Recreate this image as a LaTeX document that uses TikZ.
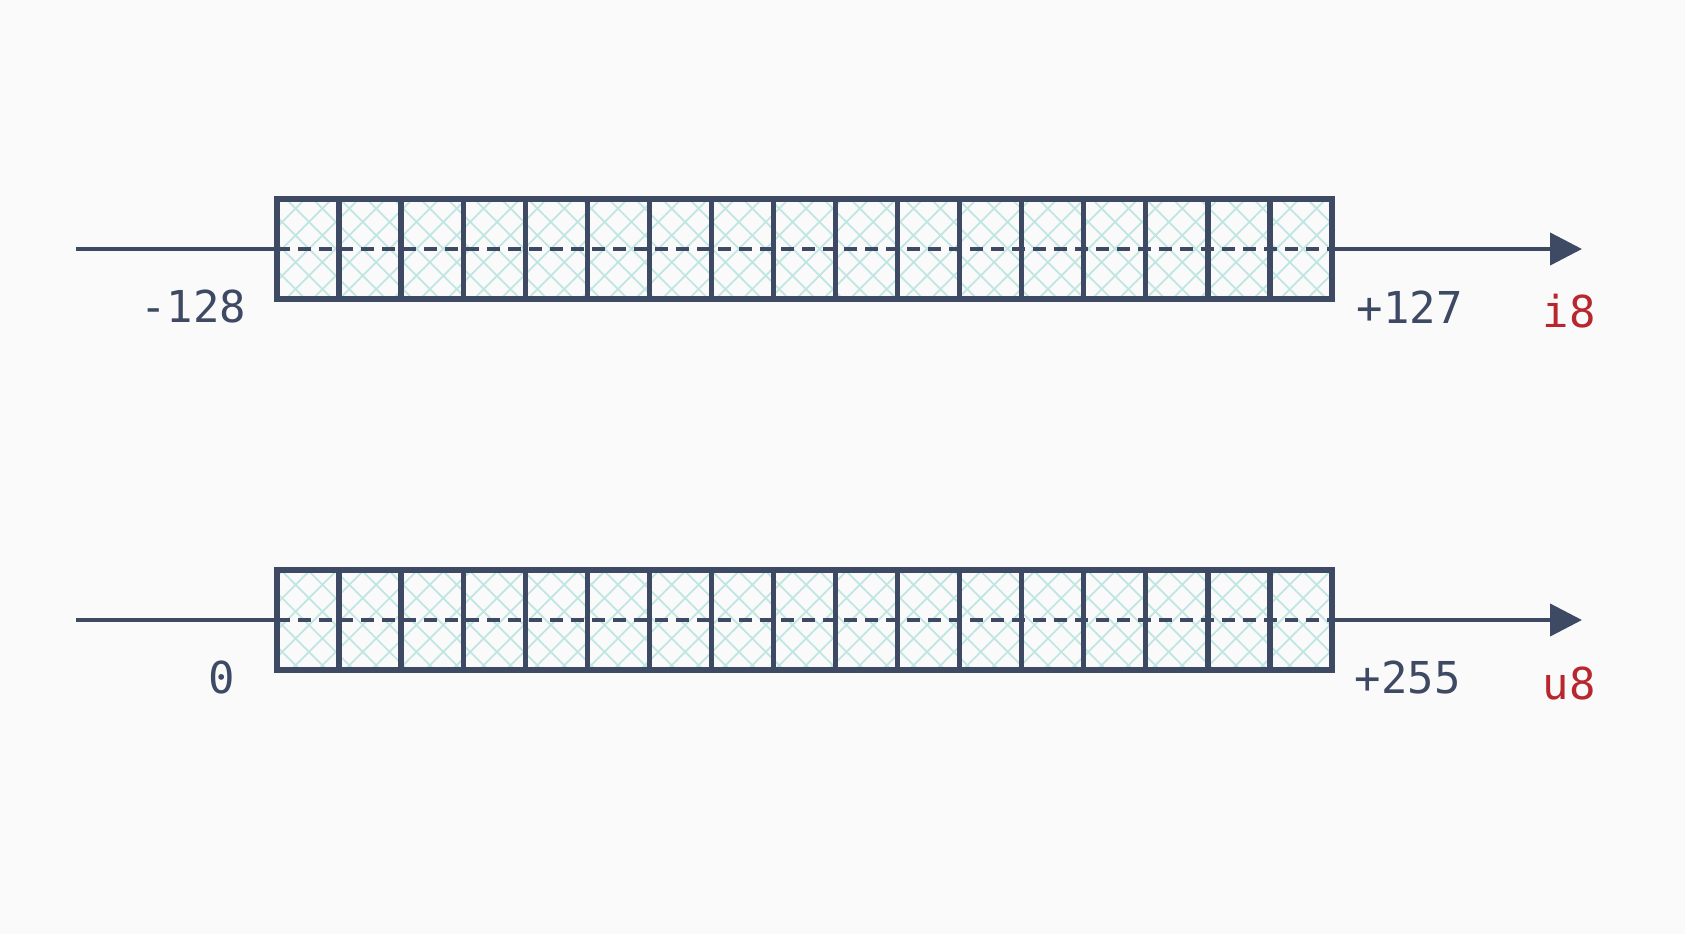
\documentclass[tikz,border=0pt]{standalone}
\usepackage{fontspec}
\setmonofont{DejaVu Sans Mono}
\usetikzlibrary{arrows.meta,patterns.meta,positioning}
\definecolor{slate}{HTML}{3E4A63}
\definecolor{typered}{HTML}{B8262E}
\definecolor{hatchteal}{HTML}{BFE6E2}
\definecolor{paper}{HTML}{FAFAFA}
\tikzset{
	cell/.style={rectangle, draw=slate, line width=1.5pt, minimum width=0.6206cm, minimum height=1cm, inner sep=0pt, outer sep=0pt, pattern={Hatch[angle=45, distance=0.19cm, line width=0.5pt]}, pattern color=hatchteal},
	axis/.style={draw=slate, line width=1.2pt},
	midline/.style={draw=slate, line width=0.9pt, dash pattern=on 0.13cm off 0.08cm},
	bound/.style={text=slate, font=\ttfamily\fontsize{12.5}{15}\selectfont, inner sep=0pt},
	typename/.style={text=typered, font=\ttfamily\fontsize{12.5}{15}\selectfont, inner sep=0pt},
}
\begin{document}
\begin{tikzpicture}
	\fill[paper] (0,0) rectangle (16.85,9.34);
	\useasboundingbox (0,0) rectangle (16.85,9.34);
	% signed byte
	\coordinate (i8start) at (0.76,6.85);
	\coordinate (i8end) at (15.82,6.85);
	\node[cell] (i8c1) at (3.0803,6.85) {};
	\foreach \k [remember=\k as \prev (initially 1)] in {2,...,17}
		\node[cell, right=0pt of i8c\prev] (i8c\k) {};
	\draw[axis] (i8start) -- (i8c1.west);
	\draw[axis, -{Triangle[length=0.32cm, width=0.32cm]}] (i8c17.east) -- (i8end);
	\draw[midline] (i8c1.west) -- (i8c17.east);
	\node[bound, anchor=east] (i8min) at (2.47,6.27) {-128};
	\node[bound, anchor=west] (i8max) at (13.56,6.27) {+127};
	\node[typename] (i8name) at (15.69,6.23) {i8};
	% unsigned byte
	\coordinate (u8start) at (0.76,3.14);
	\coordinate (u8end) at (15.82,3.14);
	\node[cell] (u8c1) at (3.0803,3.14) {};
	\foreach \k [remember=\k as \prev (initially 1)] in {2,...,17}
		\node[cell, right=0pt of u8c\prev] (u8c\k) {};
	\draw[axis] (u8start) -- (u8c1.west);
	\draw[axis, -{Triangle[length=0.32cm, width=0.32cm]}] (u8c17.east) -- (u8end);
	\draw[midline] (u8c1.west) -- (u8c17.east);
	\node[bound] (u8min) at (2.22,2.57) {0};
	\node[bound, anchor=west] (u8max) at (13.54,2.57) {+255};
	\node[typename] (u8name) at (15.69,2.50) {u8};
\end{tikzpicture}
\end{document}
